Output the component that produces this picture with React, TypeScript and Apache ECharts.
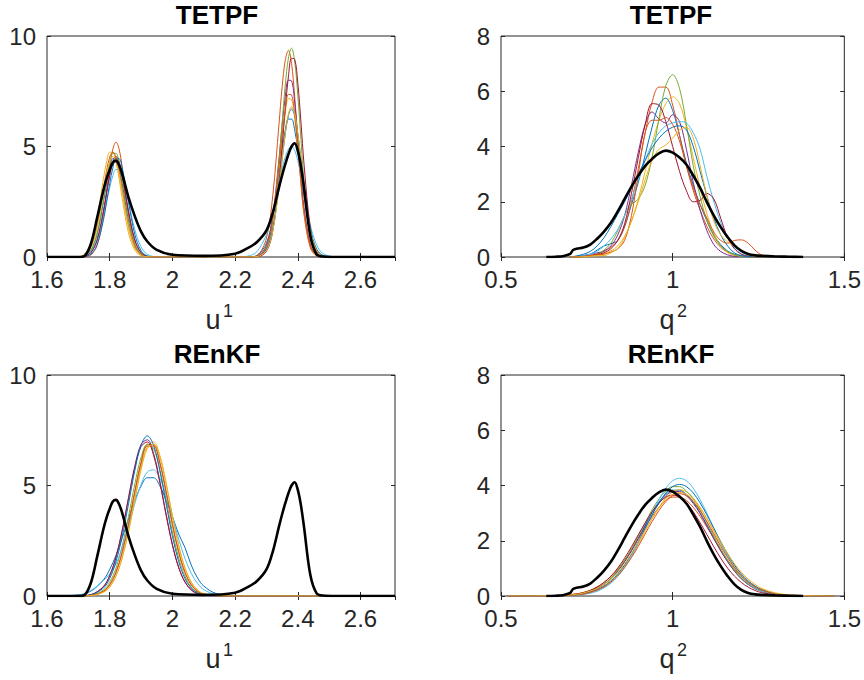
import React, { useEffect, useRef } from "react";
import * as echarts from "echarts";

const FONT = "Liberation Sans, Arial, Helvetica, sans-serif";
const AXIS_COLOR = "#262626";
const COLORS = ["#0072BD", "#D95319", "#EDB120", "#7E2F8E", "#77AC30", "#4DBEEE", "#A2142F", "#0072BD", "#D95319", "#EDB120"];

const panelTitles = ["TETPF", "TETPF", "REnKF", "REnKF"];
const axisNames = [["u", "1"], ["q", "2"], ["u", "1"], ["q", "2"]];

// axis ranges / ticks
const uX = { min: 1.6, max: 2.71, interval: 0.2 };
const qX = { min: 0.5, max: 1.5, interval: 0.5 };
const uY = { min: 0, max: 10, interval: 5 };
const qY = { min: 0, max: 8, interval: 2 };

// ---------- u^1 : reference (black) and TETPF ensemble ----------
const xU = [1.60, 1.70, 1.72, 1.74, 1.76, 1.78, 1.79, 1.80, 1.81, 1.82, 1.83, 1.84, 1.86, 1.88, 1.90, 1.92, 1.95, 2.00, 2.10, 2.20, 2.24, 2.27, 2.30, 2.32, 2.34, 2.35, 2.36, 2.37, 2.38, 2.39, 2.40, 2.41, 2.42, 2.44, 2.46, 2.48, 2.52, 2.71];
const blackU = [0, 0, 0.05, 0.6, 1.78, 3.03, 3.55, 3.95, 4.28, 4.35, 4.15, 3.75, 2.7, 1.85, 1.15, 0.7, 0.32, 0.1, 0.05, 0.15, 0.4, 0.68, 1.2, 2.0, 3.15, 3.7, 4.2, 4.65, 5.0, 5.15, 4.8, 4.1, 3.1, 0.95, 0.12, 0.02, 0, 0];
const tetpfU = [
  [0, 0, 0.05, 0.29, 1.03, 2.48, 3.32, 4.03, 4.45, 4.45, 4.03, 3.32, 1.67, 0.57, 0.13, 0.02, 0, 0, 0, 0, 0, 0.07, 0.63, 1.83, 3.82, 4.88, 5.75, 6.24, 6.24, 5.75, 4.88, 3.82, 2.76, 1.12, 0.33, 0.07, 0, 0],
  [0, 0, 0.01, 0.09, 0.53, 1.87, 2.93, 4.03, 4.88, 5.2, 4.88, 4.03, 1.87, 0.53, 0.09, 0.01, 0, 0, 0, 0, 0, 0.07, 0.86, 2.76, 6.02, 7.7, 8.9, 9.35, 8.77, 7.25, 5.26, 3.37, 1.9, 0.41, 0.05, 0, 0, 0],
  [0, 0, 0.14, 0.61, 1.79, 3.54, 4.3, 4.74, 4.74, 4.3, 3.54, 2.64, 1.09, 0.31, 0.06, 0.01, 0, 0, 0, 0, 0, 0.03, 0.46, 1.65, 3.99, 5.34, 6.5, 7.16, 7.13, 6.28, 4.86, 3.32, 1.99, 0.49, 0.07, 0.01, 0, 0],
  [0, 0, 0.03, 0.2, 0.78, 2.08, 2.93, 3.74, 4.33, 4.55, 4.33, 3.74, 2.08, 0.78, 0.2, 0.03, 0, 0, 0, 0, 0, 0.04, 0.52, 1.85, 4.46, 5.97, 7.26, 8.0, 7.97, 7.01, 5.44, 3.71, 2.23, 0.55, 0.08, 0.01, 0, 0],
  [0, 0, 0.06, 0.3, 1.08, 2.61, 3.5, 4.26, 4.69, 4.69, 4.26, 3.5, 1.77, 0.6, 0.14, 0.02, 0, 0, 0, 0, 0, 0.03, 0.42, 1.63, 4.33, 6.09, 7.78, 9.0, 9.45, 8.86, 7.32, 5.32, 3.4, 0.95, 0.16, 0.02, 0, 0],
  [0, 0, 0.06, 0.25, 0.78, 1.83, 2.49, 3.14, 3.67, 3.96, 3.96, 3.67, 2.49, 1.24, 0.46, 0.12, 0.01, 0, 0, 0, 0.04, 0.25, 1.03, 2.06, 3.37, 4.0, 4.53, 4.88, 5.0, 4.83, 4.36, 3.66, 2.88, 1.44, 0.55, 0.16, 0.01, 0],
  [0, 0, 0.03, 0.2, 0.77, 2.04, 2.87, 3.66, 4.24, 4.45, 4.24, 3.66, 2.04, 0.77, 0.2, 0.03, 0, 0, 0, 0, 0, 0.01, 0.26, 1.16, 3.39, 5.0, 6.71, 8.15, 8.99, 8.95, 7.88, 6.11, 4.17, 1.33, 0.25, 0.03, 0, 0],
  [0, 0, 0.02, 0.13, 0.57, 1.67, 2.48, 3.32, 4.03, 4.45, 4.45, 4.03, 2.48, 1.03, 0.29, 0.05, 0, 0, 0, 0, 0, 0.03, 0.36, 1.28, 3.22, 4.43, 5.57, 6.4, 6.7, 6.4, 5.57, 4.43, 3.22, 1.28, 0.36, 0.07, 0, 0],
  [0, 0, 0.09, 0.44, 1.4, 3.06, 3.91, 4.52, 4.75, 4.52, 3.91, 3.06, 1.4, 0.44, 0.09, 0.01, 0, 0, 0, 0, 0, 0.03, 0.48, 1.7, 4.1, 5.49, 6.68, 7.36, 7.33, 6.45, 5.0, 3.41, 2.05, 0.51, 0.07, 0.01, 0, 0],
  [0, 0, 0.09, 0.42, 1.34, 2.93, 3.74, 4.33, 4.55, 4.33, 3.74, 2.93, 1.34, 0.42, 0.09, 0.01, 0, 0, 0, 0, 0, 0.02, 0.3, 1.17, 3.11, 4.38, 5.6, 6.47, 6.8, 6.47, 5.6, 4.38, 3.11, 1.17, 0.3, 0.05, 0, 0],
];

// ---------- u^1 : REnKF ensemble ----------
const xUR = [1.60, 1.70, 1.74, 1.78, 1.80, 1.82, 1.84, 1.86, 1.88, 1.90, 1.92, 1.94, 1.96, 1.98, 2.00, 2.02, 2.04, 2.06, 2.08, 2.10, 2.14, 2.20, 2.71];
const renkfU = [
  [0, 0.05, 0.22, 0.73, 1.2, 1.84, 2.63, 3.49, 4.32, 4.98, 5.35, 5.35, 4.98, 4.32, 3.6, 2.8, 2.2, 1.4, 0.82, 0.45, 0.11, 0.01, 0],
  [0, 0, 0.03, 0.22, 0.51, 1.08, 2.0, 3.27, 4.73, 6.05, 6.85, 6.85, 6.05, 4.73, 3.27, 2.0, 1.08, 0.51, 0.22, 0.08, 0.01, 0, 0],
  [0, 0, 0.02, 0.18, 0.42, 0.92, 1.74, 2.95, 4.4, 5.8, 6.76, 6.97, 6.36, 5.12, 3.65, 2.3, 1.28, 0.63, 0.27, 0.1, 0.01, 0, 0],
  [0, 0.01, 0.06, 0.43, 0.93, 1.77, 2.99, 4.46, 5.88, 6.86, 7.07, 6.45, 5.2, 3.71, 2.34, 1.3, 0.64, 0.28, 0.11, 0.04, 0, 0, 0],
  [0, 0, 0.03, 0.27, 0.62, 1.26, 2.27, 3.6, 5.05, 6.27, 6.87, 6.67, 5.71, 4.33, 2.9, 1.72, 0.9, 0.41, 0.17, 0.06, 0.01, 0, 0],
  [0, 0.02, 0.25, 0.7, 1.0, 1.45, 2.21, 3.17, 4.18, 5.05, 5.61, 5.71, 5.33, 4.56, 3.58, 2.57, 1.7, 1.03, 0.57, 0.29, 0.06, 0, 0],
  [0, 0.01, 0.06, 0.42, 0.92, 1.74, 2.95, 4.4, 5.8, 6.76, 6.97, 6.36, 5.12, 3.65, 2.3, 1.28, 0.63, 0.27, 0.1, 0.04, 0, 0, 0],
  [0, 0, 0.05, 0.36, 0.79, 1.56, 2.71, 4.17, 5.67, 6.82, 7.25, 6.82, 5.67, 4.17, 2.71, 1.56, 0.79, 0.36, 0.14, 0.05, 0, 0, 0],
  [0, 0, 0.03, 0.21, 0.51, 1.07, 1.98, 3.23, 4.69, 5.99, 6.78, 6.78, 5.99, 4.69, 3.23, 1.98, 1.07, 0.51, 0.21, 0.08, 0.01, 0, 0],
  [0, 0, 0.02, 0.17, 0.41, 0.9, 1.72, 2.9, 4.33, 5.71, 6.67, 6.87, 6.27, 5.05, 3.6, 2.27, 1.26, 0.62, 0.27, 0.1, 0.01, 0, 0],
];

// ---------- q^2 : reference (black) ----------
const xQB = [0.632, 0.66, 0.68, 0.70, 0.71, 0.72, 0.74, 0.76, 0.78, 0.80, 0.82, 0.84, 0.86, 0.88, 0.90, 0.92, 0.94, 0.96, 0.98, 1.00, 1.02, 1.04, 1.06, 1.08, 1.10, 1.12, 1.14, 1.16, 1.18, 1.20, 1.22, 1.24, 1.26, 1.30, 1.34, 1.38];
const blackQ = [0, 0.01, 0.03, 0.1, 0.25, 0.3, 0.34, 0.45, 0.66, 0.92, 1.24, 1.65, 2.1, 2.55, 2.95, 3.3, 3.55, 3.75, 3.85, 3.78, 3.6, 3.35, 2.95, 2.5, 1.98, 1.5, 1.08, 0.72, 0.42, 0.22, 0.11, 0.06, 0.04, 0.02, 0.01, 0];

// ---------- q^2 : TETPF ensemble ----------
const xQT = [0.70, 0.72, 0.74, 0.76, 0.78, 0.80, 0.82, 0.84, 0.86, 0.88, 0.90, 0.92, 0.94, 0.96, 0.98, 1.00, 1.02, 1.04, 1.06, 1.08, 1.10, 1.12, 1.14, 1.16, 1.18, 1.20, 1.22, 1.24, 1.26, 1.30];
const tetpfQ = [
  [0, 0.02, 0.05, 0.1, 0.25, 0.4, 0.48, 0.6, 1.1, 1.9, 2.7, 3.7, 4.7, 5.5, 5.75, 5.3, 4.4, 3.4, 2.6, 1.9, 1.3, 0.8, 0.45, 0.22, 0.1, 0.04, 0.01, 0, 0, 0],
  [0, 0, 0.02, 0.05, 0.1, 0.2, 0.35, 0.6, 1.1, 2.0, 3.2, 4.5, 5.6, 6.15, 6.15, 5.5, 4.4, 3.3, 2.4, 1.7, 1.1, 0.65, 0.35, 0.17, 0.07, 0.03, 0.01, 0, 0, 0],
  [0, 0, 0, 0.03, 0.06, 0.12, 0.22, 0.4, 0.75, 1.3, 2.1, 3.1, 4.1, 4.95, 5.55, 5.8, 5.55, 4.7, 3.6, 2.5, 1.55, 0.85, 0.4, 0.17, 0.06, 0.02, 0, 0, 0, 0],
  [0, 0.02, 0.05, 0.1, 0.15, 0.22, 0.4, 0.8, 1.5, 2.6, 3.8, 4.8, 5.25, 5.0, 4.85, 5.15, 4.9, 3.9, 2.7, 1.7, 0.95, 0.45, 0.2, 0.08, 0.02, 0, 0, 0, 0, 0],
  [0, 0, 0.02, 0.05, 0.1, 0.25, 0.5, 0.95, 1.5, 1.9, 2.1, 2.6, 3.6, 5.0, 6.2, 6.6, 6.1, 4.8, 3.3, 2.2, 1.3, 0.75, 0.4, 0.2, 0.08, 0.02, 0, 0, 0, 0],
  [0, 0.02, 0.05, 0.1, 0.2, 0.4, 0.65, 1.0, 1.5, 2.1, 2.8, 3.5, 4.1, 4.5, 4.75, 4.85, 4.9, 4.85, 4.5, 3.9, 2.9, 2.0, 1.25, 0.7, 0.32, 0.12, 0.04, 0.01, 0, 0],
  [0, 0, 0.02, 0.05, 0.1, 0.15, 0.3, 0.6, 1.2, 2.3, 3.6, 4.8, 5.55, 5.5, 4.9, 4.0, 3.1, 2.4, 2.0, 2.05, 2.3, 2.1, 1.4, 0.7, 0.3, 0.1, 0.03, 0, 0, 0],
  [0, 0.04, 0.1, 0.2, 0.4, 0.7, 1.1, 1.55, 2.0, 2.5, 3.0, 3.5, 3.95, 4.3, 4.55, 4.7, 4.75, 4.6, 4.0, 3.1, 2.2, 1.4, 0.8, 0.4, 0.15, 0.05, 0.01, 0, 0, 0],
  [0, 0, 0.02, 0.05, 0.08, 0.1, 0.18, 0.3, 0.6, 1.5, 3.0, 4.5, 4.95, 4.95, 5.05, 4.8, 4.2, 3.3, 2.5, 1.9, 1.4, 0.9, 0.6, 0.5, 0.6, 0.62, 0.5, 0.25, 0.07, 0],
  [0, 0, 0.01, 0.03, 0.05, 0.05, 0.15, 0.3, 0.7, 1.3, 2.0, 2.8, 3.5, 3.9, 4.05, 4.3, 4.6, 4.7, 4.3, 3.3, 2.2, 1.3, 0.8, 0.55, 0.4, 0.25, 0.1, 0.03, 0, 0],
];

// ---------- q^2 : REnKF ensemble ----------
const xQR = [0.52, 0.60, 0.64, 0.68, 0.70, 0.72, 0.74, 0.76, 0.78, 0.80, 0.82, 0.84, 0.86, 0.88, 0.90, 0.92, 0.94, 0.96, 0.98, 1.00, 1.02, 1.04, 1.06, 1.08, 1.10, 1.12, 1.14, 1.16, 1.18, 1.20, 1.22, 1.24, 1.26, 1.30, 1.34, 1.38, 1.44, 1.47];
const renkfQ = [
  [0, 0, 0, 0.02, 0.03, 0.06, 0.1, 0.17, 0.27, 0.42, 0.63, 0.91, 1.25, 1.66, 2.1, 2.57, 3.01, 3.4, 3.68, 3.83, 3.83, 3.68, 3.4, 3.01, 2.57, 2.1, 1.66, 1.25, 0.91, 0.63, 0.42, 0.27, 0.17, 0.06, 0.02, 0, 0, 0],
  [0, 0, 0.01, 0.03, 0.05, 0.08, 0.13, 0.21, 0.33, 0.49, 0.7, 0.97, 1.3, 1.67, 2.08, 2.49, 2.88, 3.21, 3.46, 3.58, 3.58, 3.46, 3.21, 2.88, 2.49, 2.08, 1.67, 1.3, 0.97, 0.7, 0.49, 0.33, 0.21, 0.08, 0.03, 0.01, 0, 0],
  [0, 0, 0, 0.01, 0.02, 0.04, 0.08, 0.13, 0.22, 0.34, 0.52, 0.76, 1.07, 1.44, 1.87, 2.34, 2.8, 3.21, 3.55, 3.77, 3.85, 3.77, 3.55, 3.21, 2.8, 2.34, 1.87, 1.44, 1.07, 0.76, 0.52, 0.34, 0.22, 0.08, 0.02, 0.01, 0, 0],
  [0, 0, 0, 0.02, 0.03, 0.06, 0.1, 0.17, 0.27, 0.42, 0.62, 0.9, 1.24, 1.63, 2.07, 2.53, 2.98, 3.35, 3.63, 3.78, 3.78, 3.63, 3.35, 2.98, 2.53, 2.07, 1.63, 1.24, 0.9, 0.62, 0.42, 0.27, 0.17, 0.06, 0.02, 0, 0, 0],
  [0, 0, 0, 0.02, 0.03, 0.06, 0.1, 0.18, 0.28, 0.44, 0.65, 0.94, 1.29, 1.71, 2.17, 2.65, 3.12, 3.51, 3.8, 3.96, 3.96, 3.8, 3.51, 3.12, 2.65, 2.17, 1.71, 1.29, 0.94, 0.65, 0.44, 0.28, 0.18, 0.06, 0.02, 0, 0, 0],
  [0, 0, 0, 0.01, 0.01, 0.03, 0.06, 0.1, 0.17, 0.29, 0.46, 0.71, 1.03, 1.44, 1.92, 2.45, 2.99, 3.49, 3.9, 4.17, 4.26, 4.17, 3.9, 3.49, 2.99, 2.45, 1.92, 1.44, 1.03, 0.71, 0.46, 0.29, 0.17, 0.06, 0.01, 0, 0, 0],
  [0, 0, 0.01, 0.02, 0.04, 0.07, 0.12, 0.2, 0.32, 0.49, 0.72, 1.01, 1.37, 1.78, 2.22, 2.65, 3.05, 3.37, 3.58, 3.65, 3.58, 3.37, 3.05, 2.65, 2.22, 1.78, 1.37, 1.01, 0.72, 0.49, 0.32, 0.2, 0.12, 0.04, 0.01, 0, 0, 0],
  [0, 0, 0, 0.01, 0.02, 0.04, 0.08, 0.14, 0.23, 0.36, 0.55, 0.8, 1.12, 1.52, 1.97, 2.45, 2.93, 3.37, 3.73, 3.96, 4.04, 3.96, 3.73, 3.37, 2.93, 2.45, 1.97, 1.52, 1.12, 0.8, 0.55, 0.36, 0.23, 0.08, 0.02, 0.01, 0, 0],
  [0, 0, 0, 0.01, 0.02, 0.04, 0.07, 0.13, 0.21, 0.33, 0.5, 0.73, 1.03, 1.39, 1.8, 2.25, 2.69, 3.09, 3.42, 3.63, 3.7, 3.63, 3.42, 3.09, 2.69, 2.25, 1.8, 1.39, 1.03, 0.73, 0.5, 0.33, 0.21, 0.07, 0.02, 0.01, 0, 0],
  [0, 0, 0.01, 0.02, 0.04, 0.06, 0.11, 0.18, 0.27, 0.42, 0.61, 0.86, 1.17, 1.54, 1.95, 2.38, 2.8, 3.18, 3.49, 3.68, 3.75, 3.68, 3.49, 3.18, 2.8, 2.38, 1.95, 1.54, 1.17, 0.86, 0.61, 0.42, 0.27, 0.11, 0.04, 0.01, 0, 0],
];

const GRID_POS = [
  { left: 47, top: 36 },
  { left: 501, top: 36 },
  { left: 47, top: 375 },
  { left: 501, top: 375 },
];
const GRID_W = 348;
const GRID_H = 221;

const PANELS = [
  { xs: xU, curves: tetpfU, bx: xU, black: blackU, xr: uX, yr: uY },
  { xs: xQT, curves: tetpfQ, bx: xQB, black: blackQ, xr: qX, yr: qY },
  { xs: xUR, curves: renkfU, bx: xU, black: blackU, xr: uX, yr: uY },
  { xs: xQR, curves: renkfQ, bx: xQB, black: blackQ, xr: qX, yr: qY },
];

function pairs(xs: number[], ys: number[]) {
  return xs.map((x, i) => [x, ys[i] ?? 0]);
}

function buildOption() {
  const grid: any[] = [];
  const xAxis: any[] = [];
  const yAxis: any[] = [];
  const series: any[] = [];
  const graphic: any[] = [];
  const title: any[] = [];

  const tick = { show: true, inside: true, length: 4, lineStyle: { color: AXIS_COLOR, width: 1 } };
  const label = { color: AXIS_COLOR, fontSize: 24, fontFamily: FONT, lineHeight: 20 };

  PANELS.forEach((p, i) => {
    const g = GRID_POS[i];
    grid.push({
      left: g.left, top: g.top, width: GRID_W, height: GRID_H,
      show: true, borderColor: AXIS_COLOR, borderWidth: 1, backgroundColor: "#ffffff",
    });
    const isU = p.xr === uX;
    xAxis.push({
      type: "value", gridIndex: i, position: "bottom", ...p.xr,
      axisLine: { show: false }, axisTick: tick, splitLine: { show: false },
      axisLabel: { ...label, margin: 12, showMaxLabel: isU ? false : true },
    });
    xAxis.push({
      type: "value", gridIndex: i, position: "top", ...p.xr,
      axisLine: { show: false }, axisTick: tick, splitLine: { show: false },
      axisLabel: { show: false },
    });
    yAxis.push({
      type: "value", gridIndex: i, position: "left", ...p.yr,
      axisLine: { show: false }, axisTick: tick, splitLine: { show: false },
      axisLabel: { ...label, margin: 11 },
    });
    yAxis.push({
      type: "value", gridIndex: i, position: "right", ...p.yr,
      axisLine: { show: false }, axisTick: tick, splitLine: { show: false },
      axisLabel: { show: false },
    });

    p.curves.forEach((c, j) => {
      series.push({
        type: "line", xAxisIndex: 2 * i, yAxisIndex: 2 * i,
        data: pairs(p.xs, c), symbol: "none", showSymbol: false, smooth: 0.35,
        lineStyle: { width: 1, color: COLORS[j] }, itemStyle: { color: COLORS[j] },
        silent: true, z: 2,
      });
    });
    series.push({
      type: "line", xAxisIndex: 2 * i, yAxisIndex: 2 * i,
      data: pairs(p.bx, p.black), symbol: "none", showSymbol: false, smooth: 0.35,
      lineStyle: { width: 2.6, color: "#000000" }, itemStyle: { color: "#000000" },
      silent: true, z: 3,
    });

    const cx = g.left + 170;
    title.push({
      text: panelTitles[i], left: cx, top: g.top - 34, textAlign: "center", padding: 0,
      textStyle: { fontSize: 26, fontWeight: "bold", fontFamily: FONT, color: "#000000", lineHeight: 26 },
    });
    const [base, sup] = axisNames[i];
    graphic.push({
      type: "text", x: cx - 4, y: g.top + GRID_H + 63,
      style: {
        text: base, fontSize: 27, fontFamily: FONT, fill: AXIS_COLOR,
        textAlign: "center", align: "center", textVerticalAlign: "middle", verticalAlign: "middle",
      },
    });
    graphic.push({
      type: "text", x: cx + 11, y: g.top + GRID_H + 54,
      style: {
        text: sup, fontSize: 18, fontFamily: FONT, fill: AXIS_COLOR,
        textAlign: "center", align: "center", textVerticalAlign: "middle", verticalAlign: "middle",
      },
    });
  });

  return { animation: false, backgroundColor: "#ffffff", title, grid, xAxis, yAxis, series, graphic };
}

export default function App() {
  const ref = useRef<HTMLDivElement>(null);
  useEffect(() => {
    if (!ref.current) return;
    const chart = echarts.init(ref.current, undefined, { renderer: "svg" });
    chart.setOption(buildOption() as any);
    return () => chart.dispose();
  }, []);
  return (
    <div
      ref={ref}
      style={{ position: "fixed", left: 0, top: 0, width: 864, height: 680, background: "#ffffff" }}
    />
  );
}
